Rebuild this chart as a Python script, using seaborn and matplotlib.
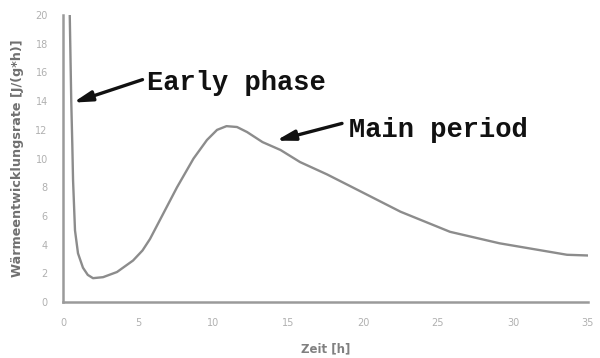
import matplotlib
matplotlib.use("Agg")
import matplotlib.pyplot as plt
import seaborn as sns
import pandas as pd

# Data
zeit = [0.45, 0.5, 0.55, 0.62, 0.67, 0.8, 1.0, 1.33, 1.65, 2.0, 2.67, 3.6, 4.67,
        5.3, 5.8, 6.6, 7.6, 8.7, 9.6, 10.27, 10.9, 11.6, 12.27, 13.3, 14.5, 15.8,
        17.6, 19.3, 22.5, 25.8, 29.1, 33.6, 35.0]
rate = [20.0, 17.0, 14.0, 11.0, 8.5, 5.0, 3.4, 2.4, 1.9, 1.67, 1.74, 2.1, 2.9,
        3.6, 4.4, 6.0, 8.0, 10.0, 11.3, 12.0, 12.26, 12.2, 11.85, 11.15, 10.6, 9.76,
        8.9, 8.0, 6.3, 4.9, 4.1, 3.3, 3.25]
x_ticks = [0, 5, 10, 15, 20, 25, 30, 35]
y_ticks = [0, 2, 4, 6, 8, 10, 12, 14, 16, 18, 20]

df = pd.DataFrame({"Zeit": zeit, "Rate": rate})

sns.set_style("white")
fig = plt.figure(figsize=(6.0, 3.58), dpi=100)
ax = fig.add_axes([0.105, 0.156, 0.875, 0.802])

sns.lineplot(data=df, x="Zeit", y="Rate", ax=ax, color="#8c8c8c", lw=1.7)

ax.set_xlim(0, 35)
ax.set_ylim(0, 20)
ax.set_xticks(x_ticks)
ax.set_yticks(y_ticks)
ax.tick_params(axis="both", length=5, width=1.2, colors="#9a9a9a",
               labelsize=7, labelcolor="#b0b0b0")
ax.tick_params(axis="x", direction="inout", pad=9)
ax.tick_params(axis="y", direction="out", pad=6)
for s in ["top", "right"]:
    ax.spines[s].set_visible(False)
for s in ["left", "bottom"]:
    ax.spines[s].set_color("#9a9a9a")
    ax.spines[s].set_linewidth(1.8)

ax.set_xlabel("Zeit [h]", fontsize=8.5, color="#808080", fontweight="bold",
              labelpad=10)
ax.set_ylabel("Wärmeentwicklungsrate [J/(g*h)]", fontsize=9.2, color="#707070",
              fontweight="bold", labelpad=8)

mono = "Liberation Mono"
arrow_kw = dict(arrowstyle="-|>,head_length=1.1,head_width=0.3",
                color="#111111", lw=2.4, shrinkA=0, shrinkB=0)
ax.annotate("", xy=(0.67, 13.9), xytext=(5.3, 15.5), arrowprops=arrow_kw)
ax.annotate("", xy=(14.2, 11.25), xytext=(18.6, 12.45), arrowprops=arrow_kw)
ax.text(5.6, 14.77, "Early phase", fontsize=19.5, fontfamily=mono,
        fontweight="bold", color="#111111", va="baseline", ha="left")
ax.text(19.07, 11.5, "Main period", fontsize=19.5, fontfamily=mono,
        fontweight="bold", color="#111111", va="baseline", ha="left")

fig.savefig("out.png", dpi=100)
